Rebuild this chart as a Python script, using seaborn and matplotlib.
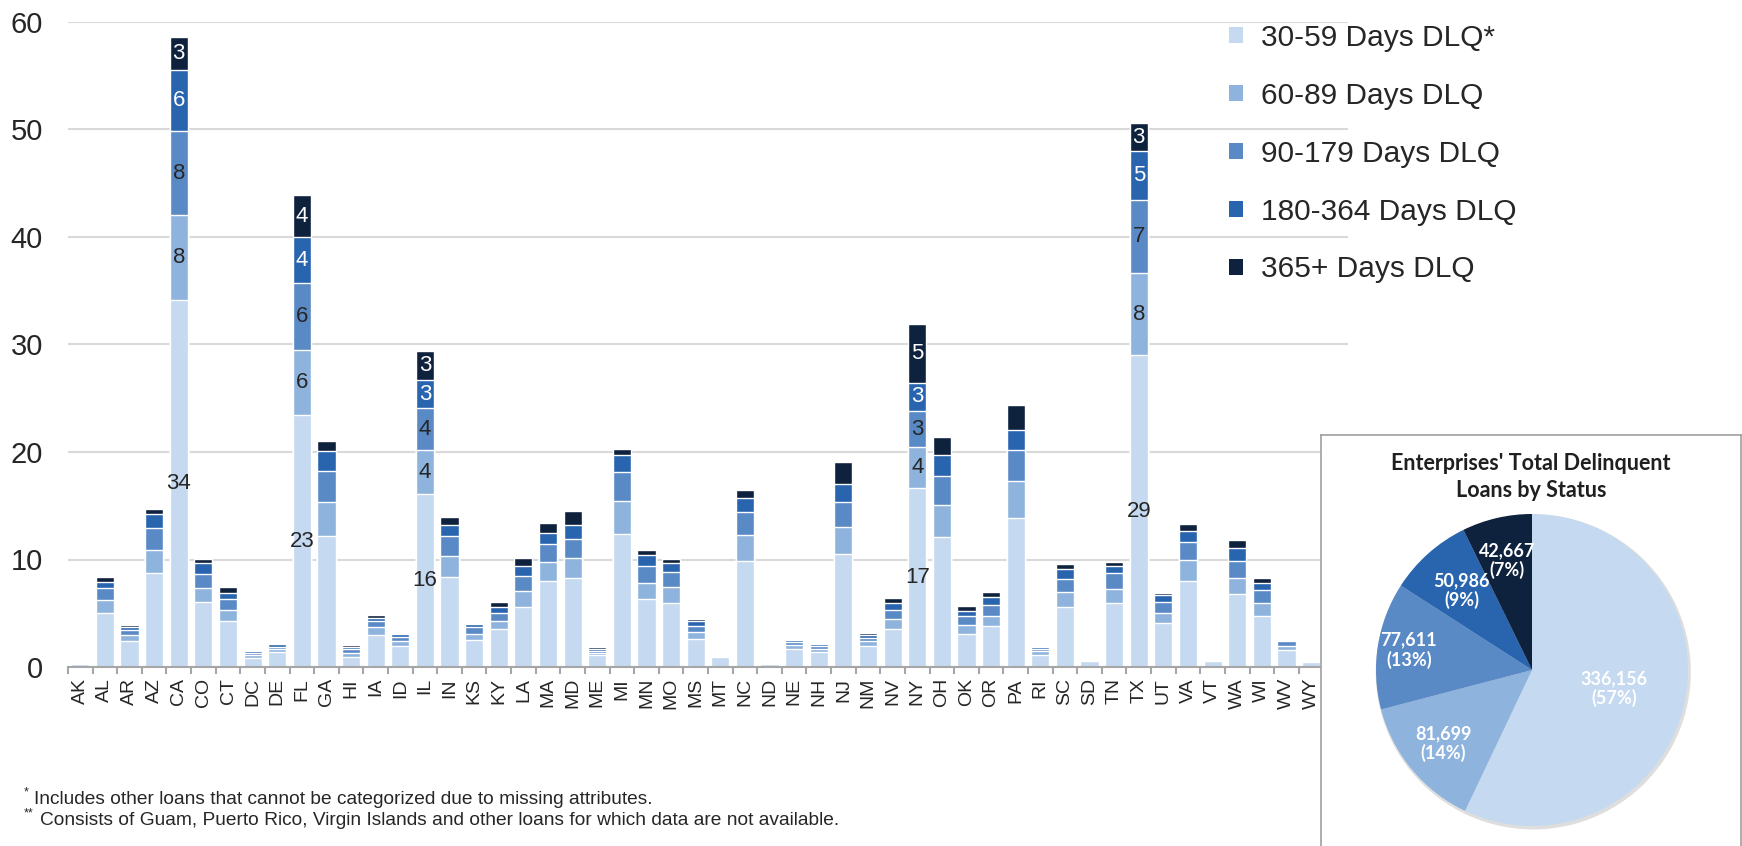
import matplotlib
matplotlib.use("Agg")
import matplotlib.pyplot as plt
from matplotlib.patches import Patch, Circle
from matplotlib.ticker import FixedLocator
import numpy as np
import pandas as pd
import seaborn as sns

# ---------------------------------------------------------------- data
states = ["AK", "AL", "AR", "AZ", "CA", "CO", "CT", "DC", "DE", "FL",
          "GA", "HI", "IA", "ID", "IL", "IN", "KS", "KY", "LA", "MA",
          "MD", "ME", "MI", "MN", "MO", "MS", "MT", "NC", "ND", "NE",
          "NH", "NJ", "NM", "NV", "NY", "OH", "OK", "OR", "PA", "RI",
          "SC", "SD", "TN", "TX", "UT", "VA", "VT", "WA", "WI", "WV",
          "WY", "Other**"]

# delinquent loans by state, thousands
dlq_30_59 = [0.30, 5.0, 2.4, 8.76, 34.1, 6.06, 4.28, 0.85, 1.35, 23.4,
             12.17, 0.95, 3.0, 2.0, 16.07, 8.4, 2.48, 3.5, 5.6, 8.0,
             8.25, 1.1, 12.4, 6.3, 5.96, 2.64, 0.9, 9.87, 0.3, 1.7,
             1.4, 10.5, 2.0, 3.57, 16.65, 12.05, 3.1, 3.82, 13.88, 1.15,
             5.59, 0.55, 5.96, 29.0, 4.1, 7.98, 0.55, 6.83, 4.75, 1.6,
             0.45, 0.3]
dlq_60_89 = [0.03, 1.25, 0.55, 2.1, 7.9, 1.3, 1.04, 0.25, 0.3, 6.1,
             3.2, 0.35, 0.7, 0.45, 4.07, 1.95, 0.55, 0.8, 1.5, 1.8,
             1.85, 0.2, 3.0, 1.55, 1.45, 0.65, 0.1, 2.45, 0.03, 0.35,
             0.3, 2.55, 0.4, 0.87, 3.82, 3.0, 0.84, 0.93, 3.39, 0.3,
             1.4, 0.1, 1.34, 7.64, 0.96, 1.96, 0.07, 1.43, 1.21, 0.4,
             0.05, 0.05]
dlq_90_179 = [0.02, 1.1, 0.5, 2.1, 7.9, 1.3, 1.04, 0.2, 0.25, 6.19,
              2.9, 0.4, 0.55, 0.35, 3.95, 1.8, 0.65, 0.75, 1.4, 1.6,
              1.8, 0.2, 2.7, 1.55, 1.4, 0.55, 0.07, 2.1, 0.02, 0.3,
              0.25, 2.3, 0.3, 0.9, 3.32, 2.73, 0.78, 1.0, 2.92, 0.25,
              1.21, 0.05, 1.4, 6.8, 1.0, 1.68, 0.04, 1.6, 1.18, 0.4,
              0.03, 0.03]
dlq_180_364 = [0.01, 0.6, 0.3, 1.3, 5.6, 1.0, 0.5, 0.15, 0.2, 4.28,
               1.8, 0.2, 0.35, 0.3, 2.6, 1.1, 0.33, 0.55, 0.9, 1.05,
               1.35, 0.15, 1.6, 1.05, 0.85, 0.45, 0.05, 1.27, 0.01, 0.2,
               0.15, 1.7, 0.25, 0.62, 2.67, 1.93, 0.5, 0.78, 1.86, 0.15,
               0.87, 0.03, 0.68, 4.55, 0.62, 1.06, 0.02, 1.2, 0.71, 0.15,
               0.02, 0.02]
dlq_365_plus = [0.01, 0.4, 0.2, 0.4, 3.1, 0.4, 0.6, 0.15, 0.1, 3.9,
                0.95, 0.15, 0.25, 0.1, 2.7, 0.75, 0.1, 0.45, 0.7, 0.9,
                1.25, 0.25, 0.6, 0.45, 0.4, 0.16, 0.03, 0.78, 0.01, 0.08,
                0.05, 2.0, 0.2, 0.5, 5.43, 1.7, 0.43, 0.43, 2.36, 0.08,
                0.53, 0.02, 0.4, 2.58, 0.2, 0.62, 0.01, 0.8, 0.43, 0.06,
                0.01, 0.01]

series_names = ["30-59 Days DLQ*", "60-89 Days DLQ", "90-179 Days DLQ",
                "180-364 Days DLQ", "365+ Days DLQ"]
labeled_states = ["CA", "FL", "IL", "NY", "TX"]

pie_counts = [336156, 81699, 77611, 50986, 42667]
pie_title = "Enterprises' Total Delinquent\nLoans by Status"

footnote_marks = ["*", "**"]
footnotes = ["Includes other loans that cannot be categorized due to missing attributes.",
             "Consists of Guam, Puerto Rico, Virgin Islands and other loans for which data are not available."]

# ---------------------------------------------------------------- style
colors = ["#C5D9F0", "#8EB4DE", "#5A8AC6", "#2965AF", "#0E213D"]
value_text_colors = ["#262626", "#262626", "#262626", "white", "white"]
text_color = "#262626"
grid_color = "#D9D9D9"
axis_color = "#A6A6A6"

sns.set_theme(style="white")
plt.rcParams["font.family"] = ["Liberation Sans", "DejaVu Sans"]

W, H, DPI = 1742, 846, 100
fig = plt.figure(figsize=(W / DPI, H / DPI), dpi=DPI)


def px_rect(x0, y0, x1, y1):
    """Pixel box (origin top-left) -> figure-fraction rect."""
    return [x0 / W, 1 - y1 / H, (x1 - x0) / W, (y1 - y0) / H]


# ---------------------------------------------------------------- stacked bars
ax = fig.add_axes(px_rect(68, 22, 1348, 667))

layers = np.array([dlq_30_59, dlq_60_89, dlq_90_179, dlq_180_364, dlq_365_plus])
cum = np.cumsum(layers, axis=0)
df = pd.DataFrame({"state": states})
for i, name in enumerate(series_names):
    df[name] = cum[i]

# tallest cumulative first, so each lower stack covers the one above it
for i in range(len(series_names) - 1, -1, -1):
    sns.barplot(data=df, x="state", y=series_names[i], order=states,
                color=colors[i], saturation=1, width=0.74,
                edgecolor="white", linewidth=1.0, ax=ax, zorder=2)

for s in labeled_states:
    j = states.index(s)
    for i in range(len(series_names)):
        v = layers[i, j]
        ax.text(j, cum[i, j] - v / 2, f"{v:.0f}", ha="center", va="center",
                fontsize=16, color=value_text_colors[i], zorder=5)

ax.set_xlim(-0.5, len(states) - 0.5)
ax.set_ylim(0, 60)
ax.set_yticks(range(0, 61, 10))
ax.set_xlabel("")
ax.set_ylabel("")
ax.set_facecolor("none")
ax.yaxis.grid(True, color=grid_color, linewidth=1.5)
ax.xaxis.grid(False)
ax.set_axisbelow(True)
for side in ["left", "top", "right"]:
    ax.spines[side].set_visible(False)
ax.spines["bottom"].set_color(axis_color)
ax.spines["bottom"].set_linewidth(1.5)
ax.spines["bottom"].set_zorder(3)

ax.tick_params(axis="y", length=0, pad=18, labelsize=21, labelcolor=text_color)
ax.tick_params(axis="x", which="major", length=0, pad=8, labelsize=14,
               labelrotation=90, labelcolor=text_color)
ax.xaxis.set_minor_locator(FixedLocator(np.arange(-0.5, len(states), 1.0)))
ax.tick_params(axis="x", which="minor", bottom=True, length=5, width=1.5,
               color=axis_color, direction="out")

handles = [Patch(facecolor=c, edgecolor="none") for c in colors]
ax.legend(handles, series_names, loc="upper left",
          bbox_to_anchor=(1229 / W, 1 - 24 / H), bbox_transform=fig.transFigure,
          frameon=False, fontsize=21.5, handlelength=0.46, handleheight=0.46,
          handletextpad=0.6, labelspacing=1.0, borderpad=0, borderaxespad=0,
          labelcolor=text_color)

# ---------------------------------------------------------------- footnotes
fig.text(24 / W, 1 - 792 / H, footnote_marks[0], fontsize=9, color=text_color,
         ha="left", va="center")
fig.text(34 / W, 1 - 799 / H, footnotes[0], fontsize=13.8, color=text_color,
         ha="left", va="center")
fig.text(24 / W, 1 - 813 / H, footnote_marks[1], fontsize=9, color=text_color,
         ha="left", va="center")
fig.text(40 / W, 1 - 820 / H, footnotes[1], fontsize=13.8, color=text_color,
         ha="left", va="center")

# ---------------------------------------------------------------- pie panel
box = fig.add_axes(px_rect(1321, 435, 1741, 870))
box.set_facecolor("white")
box.set_xticks([])
box.set_yticks([])
for sp in box.spines.values():
    sp.set_color("#A0A0A0")
    sp.set_linewidth(1.2)
box.text(0.5, 1 - 42 / 435, pie_title, transform=box.transAxes,
         ha="center", va="center", fontsize=15.5, fontweight="bold",
         family=["Lato", "DejaVu Sans"], color="#1F1F1F", linespacing=1.3)

pie_ax = fig.add_axes(px_rect(1376, 514, 1688, 826))
pie_ax.add_patch(Circle((0.008, -0.012), 1.01, color="#C8C8C8", alpha=0.6,
                        zorder=0, clip_on=False, linewidth=0))
pie_ax.pie(pie_counts, colors=colors, startangle=90, counterclock=False,
           radius=1, wedgeprops=dict(linewidth=0))
pie_ax.set_xlim(-1, 1)
pie_ax.set_ylim(-1, 1)
pie_ax.set_aspect("equal")
pie_ax.axis("off")

total = sum(pie_counts)
label_radius = [0.54, 0.74, 0.80, 0.68, 0.72]
start = 0.0
for k, v in enumerate(pie_counts):
    frac = v / total
    theta = np.deg2rad(90 - 360 * (start + frac / 2))
    start += frac
    r = label_radius[k]
    pie_ax.text(r * np.cos(theta), r * np.sin(theta),
                f"{v:,}\n({frac * 100:.0f}%)", ha="center", va="center",
                color="white", fontsize=13, fontweight="bold",
                family=["Lato", "DejaVu Sans"], linespacing=1.15, zorder=5)

fig.savefig("out.png", dpi=DPI, facecolor="white")
